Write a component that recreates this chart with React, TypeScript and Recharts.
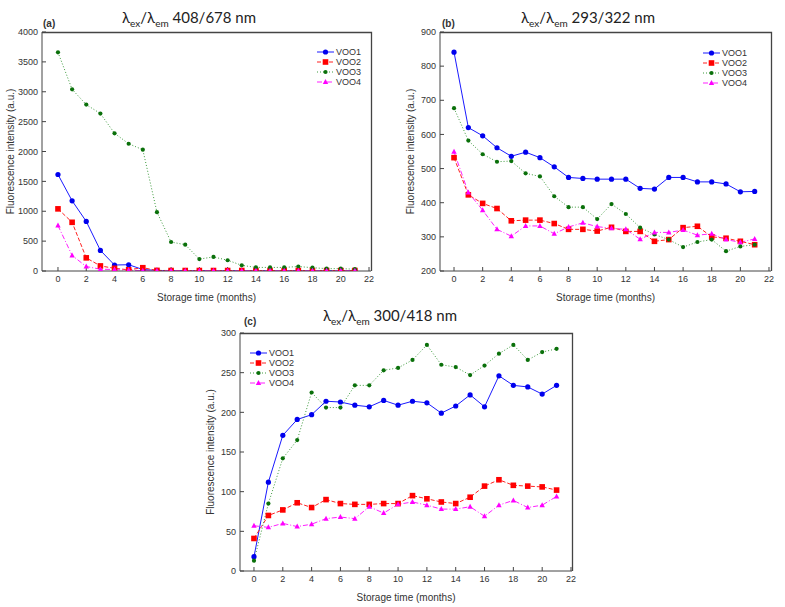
import { LineChart, Line, XAxis, YAxis } from "recharts";

// storage time (months)
const months = [0, 1, 2, 3, 4, 5, 6, 7, 8, 9, 10, 11, 12, 13, 14, 15, 16, 17, 18, 19, 20, 21];
const xTicks = [0, 2, 4, 6, 8, 10, 12, 14, 16, 18, 20, 22];

// (a) 408/678 nm
const aVoo1 = [1615, 1175, 830, 345, 100, 105, 25, 10, 5, 5, 5, 5, 5, 5, 5, 5, 5, 5, 5, 5, 5, 5];
const aVoo2 = [1040, 815, 220, 85, 45, 20, 55, 10, 8, 8, 8, 8, 8, 8, 8, 8, 8, 8, 8, 8, 8, 8];
const aVoo3 = [3660, 3040, 2785, 2635, 2305, 2130, 2030, 985, 485, 440, 200, 235, 180, 95, 60, 60, 60, 75, 55, 40, 40, 30];
const aVoo4 = [760, 260, 75, 30, 25, 15, 5, 5, 5, 5, 5, 5, 5, 5, 5, 5, 5, 5, 5, 5, 5, 5];
const aYTicks = [0, 500, 1000, 1500, 2000, 2500, 3000, 3500, 4000];

// (b) 293/322 nm
const bVoo1 = [841, 620, 596, 561, 536, 548, 532, 505, 474, 471, 469, 469, 469, 442, 440, 474, 474, 461, 461, 455, 432, 433];
const bVoo2 = [532, 423, 398, 383, 347, 349, 349, 339, 322, 322, 317, 328, 316, 316, 287, 292, 327, 331, 300, 296, 287, 277];
const bVoo3 = [677, 582, 542, 520, 522, 486, 477, 419, 387, 387, 352, 396, 367, 327, 307, 292, 270, 285, 292, 258, 272, 277];
const bVoo4 = [549, 430, 378, 322, 302, 332, 332, 309, 329, 341, 330, 325, 322, 293, 313, 313, 320, 305, 309, 292, 284, 294];
const bYTicks = [200, 300, 400, 500, 600, 700, 800, 900];

// (c) 300/418 nm
const cVoo1 = [18, 112, 171, 191, 197, 214, 213, 209, 207, 215, 209, 214, 212, 199, 208, 222, 207, 246, 234, 232, 223, 234];
const cVoo2 = [41, 70, 77, 86, 80, 90, 85, 84, 84, 85, 85, 95, 91, 87, 85, 93, 107, 115, 108, 107, 106, 102];
const cVoo3 = [13, 85, 142, 165, 225, 206, 206, 234, 234, 253, 256, 266, 285, 260, 257, 247, 259, 274, 285, 266, 276, 280];
const cVoo4 = [57, 55, 60, 56, 59, 66, 68, 66, 81, 73, 84, 87, 83, 78, 78, 81, 69, 83, 89, 80, 83, 94];
const cYTicks = [0, 50, 100, 150, 200, 250, 300];

const seriesNames = ["VOO1", "VOO2", "VOO3", "VOO4"];

const SERIES = [
  { key: "voo1", line: "#1a1aff", fill: "#0000ee", dash: undefined, marker: "circle" },
  { key: "voo2", line: "#ff2020", fill: "#ff0000", dash: "4 2", marker: "square" },
  { key: "voo3", line: "#3c9a3c", fill: "#0a700a", dash: "1 2", marker: "star" },
  { key: "voo4", line: "#ff20ff", fill: "#ff00ff", dash: "5 2 1 2", marker: "triangle" },
];

const X_AXIS_H = 30;

const rows = (s1: number[], s2: number[], s3: number[], s4: number[]) =>
  months.map((m, i) => ({ m, voo1: s1[i], voo2: s2[i], voo3: s3[i], voo4: s4[i] }));

function Marker({ cx, cy, kind, color }: any) {
  if (cx == null || cy == null) return null;
  if (kind === "square") return <rect x={cx - 2.8} y={cy - 2.8} width={5.6} height={5.6} fill={color} />;
  if (kind === "triangle")
    return <path d={`M${cx},${cy - 3}L${cx + 2.7},${cy + 2}L${cx - 2.7},${cy + 2}Z`} fill={color} />;
  if (kind === "star") return <circle cx={cx} cy={cy} r={2.1} fill={color} />;
  return <circle cx={cx} cy={cy} r={2.6} fill={color} />;
}

function Legend({ left, top }: { left: number; top: number }) {
  return (
    <div style={{ position: "absolute", left, top, fontSize: 9, color: "#333", lineHeight: "10px" }}>
      {SERIES.map((s, i) => (
        <div key={s.key} style={{ display: "flex", alignItems: "center", height: 10 }}>
          <svg width={17} height={8} style={{ marginRight: 2 }}>
            <line x1={0} y1={4} x2={17} y2={4} stroke={s.line} strokeDasharray={s.dash} />
            <Marker cx={8.5} cy={4} kind={s.marker} color={s.fill} />
          </svg>
          <span>{seriesNames[i]}</span>
        </div>
      ))}
    </div>
  );
}

function Title({ x, y, tag, nums }: { x: number; y: number; tag: string; nums: string }) {
  return (
    <>
      <div style={{ position: "absolute", left: x - 146, top: y + 10, fontSize: 10, fontWeight: "bold", color: "#333" }}>
        {tag}
      </div>
      <div
        style={{
          position: "absolute",
          left: x,
          top: y,
          transform: "translateX(-50%)",
          fontSize: 15,
          fontFamily: "Lato, 'Liberation Sans', sans-serif",
          color: "#222",
          whiteSpace: "nowrap",
        }}
      >
        λ<sub style={{ fontSize: 10 }}>ex</sub>/λ<sub style={{ fontSize: 10 }}>em</sub> {nums}
      </div>
    </>
  );
}

function Panel(props: any) {
  const { left, top, width, height, data, xDomain, yDomain, yTicks, yWidth, yLabelOffset, margin } = props;
  const axisColor = "#444";
  const tick = { fill: "#333", fontSize: 9 };
  const fx = margin.left + yWidth;
  const fy = margin.top;
  const fw = width - margin.left - yWidth - margin.right;
  const fh = height - margin.top - margin.bottom - X_AXIS_H;
  return (
    <div style={{ position: "absolute", left, top, width, height }}>
      <LineChart width={width} height={height} data={data} margin={margin}>
        <XAxis
          dataKey="m"
          type="number"
          domain={xDomain}
          ticks={xTicks}
          allowDataOverflow
          interval={0}
          height={X_AXIS_H}
          tickSize={-4}
          tickMargin={9}
          stroke={axisColor}
          tick={tick}
          label={{ value: "Storage time (months)", position: "insideBottom", offset: 0, fill: "#333", fontSize: 10 }}
        />
        <YAxis
          type="number"
          domain={yDomain}
          ticks={yTicks}
          allowDataOverflow
          interval={0}
          width={yWidth}
          tickSize={-4}
          tickMargin={8}
          stroke={axisColor}
          tick={tick}
          label={{
            value: "Fluorescence intensity (a.u.)",
            angle: -90,
            position: "insideLeft",
            offset: yLabelOffset,
            fill: "#333",
            fontSize: 10,
            style: { textAnchor: "middle" },
          }}
        />
        {SERIES.map((s, i) => (
          <Line
            key={s.key}
            dataKey={s.key}
            name={seriesNames[i]}
            type="linear"
            stroke={s.line}
            strokeWidth={1}
            strokeDasharray={s.dash}
            isAnimationActive={false}
            activeDot={false}
            dot={(p: any) => (
              <Marker key={`${s.key}-${p.index}`} cx={p.cx} cy={p.cy} kind={s.marker} color={s.fill} />
            )}
          />
        ))}
      </LineChart>
      {/* plot frame: top and right edges of the box, laid over the chart */}
      <svg
        width={width}
        height={height}
        style={{ position: "absolute", left: 0, top: 0, pointerEvents: "none", zIndex: 10 }}
      >
        <polyline
          points={`${fx},${fy + 0.5} ${fx + fw + 0.5},${fy + 0.5} ${fx + fw + 0.5},${fy + fh}`}
          fill="none"
          stroke={axisColor}
          strokeWidth={1.3}
        />
      </svg>
    </div>
  );
}

export default function App() {
  return (
    <div
      style={{
        position: "absolute",
        left: 0,
        top: 0,
        width: 785,
        height: 607,
        background: "#fff",
        fontFamily: "'Liberation Sans', Arial, sans-serif",
        overflow: "hidden",
      }}
    >
      <Panel
        left={0}
        top={0}
        width={390}
        height={305}
        data={rows(aVoo1, aVoo2, aVoo3, aVoo4)}
        xDomain={[-1.13, 22.14]}
        yDomain={[0, 4000]}
        yTicks={aYTicks}
        yWidth={42}
        yLabelOffset={10}
        margin={{ top: 32, right: 19, bottom: 4, left: 0 }}
      />
      <Panel
        left={390}
        top={0}
        width={395}
        height={305}
        data={rows(bVoo1, bVoo2, bVoo3, bVoo4)}
        xDomain={[-0.98, 22.14]}
        yDomain={[200, 900]}
        yTicks={bYTicks}
        yWidth={50}
        yLabelOffset={20}
        margin={{ top: 32, right: 14, bottom: 4, left: 0 }}
      />
      <Panel
        left={190}
        top={280}
        width={420}
        height={327}
        data={rows(cVoo1, cVoo2, cVoo3, cVoo4)}
        xDomain={[-0.97, 22.07]}
        yDomain={[0, 300]}
        yTicks={cYTicks}
        yWidth={50}
        yLabelOffset={20}
        margin={{ top: 53, right: 38, bottom: 6, left: 0 }}
      />
      <Title x={189} y={8} tag="(a)" nums="408/678 nm" />
      <Title x={588} y={8} tag="(b)" nums="293/322 nm" />
      <Title x={390} y={306} tag="(c)" nums="300/418 nm" />
      <Legend left={317} top={47} />
      <Legend left={703} top={48} />
      <Legend left={250} top={348} />
    </div>
  );
}
